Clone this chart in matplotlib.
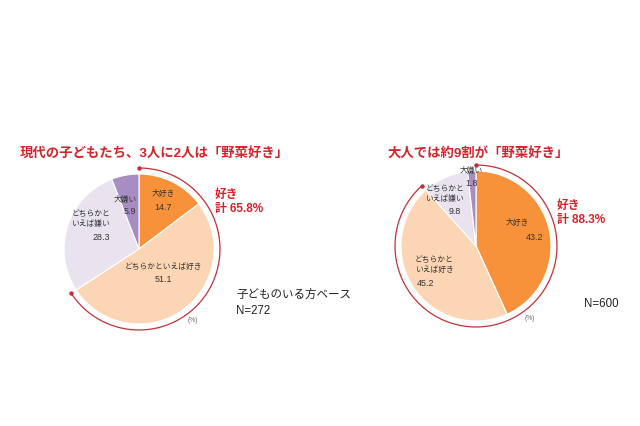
import matplotlib
matplotlib.use('agg')
import matplotlib.pyplot as plt
import numpy as np

plt.rcParams['font.family'] = ['Liberation Sans', 'Noto Sans CJK JP', 'DejaVu Sans']

W, H = 640, 426

# answers, clockwise from 12 o'clock
CATEGORIES = ["大好き", "どちらかといえば好き", "どちらかといえば嫌い", "大嫌い"]
CHILD_VALUES = [14.7, 51.1, 28.3, 5.9]
ADULT_VALUES = [43.2, 45.2, 9.8, 1.8]
CHILD_LIKE_TOTAL = 65.8
ADULT_LIKE_TOTAL = 88.3

CHILD_TITLE = "現代の子どもたち、3人に2人は「野菜好き」"
ADULT_TITLE = "大人では約9割が「野菜好き」"
CHILD_BASE = "子どものいる方ベース\nN=272"
ADULT_BASE = "N=600"

COLORS = ['#F7923A', '#FCD6B4', '#E9E3EF', '#A78DC1']
RED = '#D4242B'
ARC_RED = '#C2303A'
TEXT = '#333333'

# label text for each slice, per chart (line breaks differ)
CHILD_NAMES = ["大好き", "どちらかといえば好き", "どちらかと\nいえば嫌い", "大嫌い"]
ADULT_NAMES = ["大好き", "どちらかと\nいえば好き", "どちらかと\nいえば嫌い", "大嫌い"]

# layout (pixel positions, y measured from top)
CHILD_CENTER = (139, 249)
ADULT_CENTER = (476, 246)
RADIUS = 75
ARC_R = 81
CHILD_NAME_POS = [(163, 194, 'center'), (163, 267, 'center'), (110, 219, 'right'), (125, 200, 'center')]
CHILD_VAL_POS = [(163, 207, 'center'), (163, 279, 'center'), (110, 237, 'right'), (130, 212, 'center')]
ADULT_NAME_POS = [(517, 223, 'center'), (415, 265, 'left'), (464, 194, 'right'), (471, 171, 'center')]
ADULT_VAL_POS = [(535, 237, 'center'), (417, 283, 'left'), (455, 211, 'center'), (472, 183, 'center')]


def Y(y):
    return H - y


def draw_pie(ax, values, names, center, name_pos, val_pos, like_total):
    cx, cy = center[0], Y(center[1])
    ax.pie(values, colors=COLORS, startangle=90, counterclock=False,
           center=(cx, cy), radius=RADIUS,
           wedgeprops=dict(edgecolor='white', linewidth=0.8))
    for name, v, (nx, ny, nha), (vx, vy, vha) in zip(names, values, name_pos, val_pos):
        ax.text(nx, Y(ny), name, ha=nha, va='center', fontsize=5.6,
                color=TEXT, linespacing=1.45)
        ax.text(vx, Y(vy), '{:.1f}'.format(v), ha=vha, va='center',
                fontsize=6.4, color=TEXT)

    # red arc around the "like" share
    t = np.radians(np.linspace(90, 90 - 360 * like_total / 100, 200))
    xs = cx + ARC_R * np.cos(t)
    ys = cy + ARC_R * np.sin(t)
    ax.plot(xs, ys, color=ARC_RED, lw=0.9)
    ax.plot([xs[0], xs[-1]], [ys[0], ys[-1]], 'o', color=ARC_RED, ms=2.2)
    ax.text(cx + 54, Y(center[1] + 72), '(%)', fontsize=4.8, color='#666666',
            ha='center', va='center')


fig = plt.figure(figsize=(W / 100, H / 100), dpi=100)
ax = fig.add_axes([0, 0, 1, 1])

draw_pie(ax, CHILD_VALUES, CHILD_NAMES, CHILD_CENTER,
         CHILD_NAME_POS, CHILD_VAL_POS, CHILD_LIKE_TOTAL)
draw_pie(ax, ADULT_VALUES, ADULT_NAMES, ADULT_CENTER,
         ADULT_NAME_POS, ADULT_VAL_POS, ADULT_LIKE_TOTAL)

ax.text(20, Y(153), CHILD_TITLE, fontsize=9.6, fontweight='bold', color=RED,
        ha='left', va='center')
ax.text(387, Y(153), ADULT_TITLE, fontsize=9.6, fontweight='bold', color=RED,
        ha='left', va='center')

ax.text(215, Y(202), "好き\n計 {}%".format(CHILD_LIKE_TOTAL), fontsize=8.5,
        fontweight='bold', color=RED, ha='left', va='center', linespacing=1.3)
ax.text(557, Y(213), "好き\n計 {}%".format(ADULT_LIKE_TOTAL), fontsize=8.5,
        fontweight='bold', color=RED, ha='left', va='center', linespacing=1.3)

ax.text(236, Y(303), CHILD_BASE, fontsize=8.3, color='#222222',
        ha='left', va='center', linespacing=1.4)
ax.text(584, Y(304), ADULT_BASE, fontsize=8.3, color='#222222',
        ha='left', va='center')

ax.set_xlim(0, W)
ax.set_ylim(0, H)
ax.set_aspect('auto')
ax.axis('off')

plt.savefig('out.png', dpi=100, facecolor='white')
